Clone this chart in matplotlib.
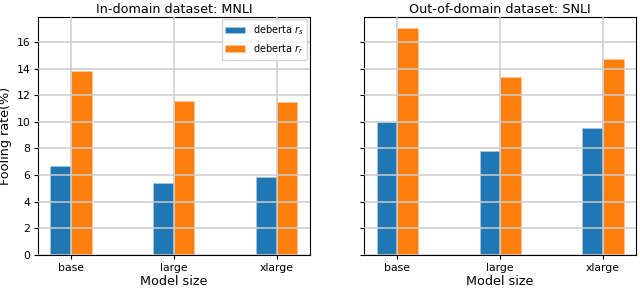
import matplotlib
matplotlib.use("Agg")
import matplotlib.pyplot as plt
import numpy as np

plt.rcParams["font.size"] = 7.8

sizes = ["base", "large", "xlarge"]
mnli_rs = [6.65, 5.38, 5.88]
mnli_rr = [13.82, 11.55, 11.5]
snli_rs = [9.97, 7.83, 9.52]
snli_rr = [17.02, 13.38, 14.68]

fig, axes = plt.subplots(1, 2, figsize=(6.4, 2.88), dpi=100, sharey=True)
x = np.arange(len(sizes))
w = 0.2
panels = [("In-domain dataset: MNLI", mnli_rs, mnli_rr),
          ("Out-of-domain dataset: SNLI", snli_rs, snli_rr)]
for ax, (title, rs, rr) in zip(axes, panels):
    ax.bar(x - w/2, rs, w, color="#1f77b4", edgecolor="#a9c6de", linewidth=0.6, label=r"deberta $r_s$")
    ax.bar(x + w/2, rr, w, color="#ff7f0e", edgecolor="#fdc593", linewidth=0.6, label=r"deberta $r_r$")
    ax.set_xticks(x)
    ax.set_xticklabels(sizes)
    ax.tick_params(length=3, pad=2.5)
    ax.set_xlabel("Model size", fontsize=9.2, labelpad=2)
    ax.set_title(title, fontsize=9.2, pad=3)
    ax.grid(True, color="#cccccc", linewidth=1.1)
    ax.set_axisbelow(False)
axes[0].set_yticks(np.arange(0, 17, 2))
axes[0].set_ylabel("Fooling rate(%)", fontsize=9.2, labelpad=3)
axes[0].legend(loc="upper right", fontsize=7, handlelength=2.0, borderaxespad=0.25)
fig.subplots_adjust(left=38/640, right=636/640, top=1-17/288, bottom=1-255/288, wspace=55/273)
fig.savefig("out.png")
